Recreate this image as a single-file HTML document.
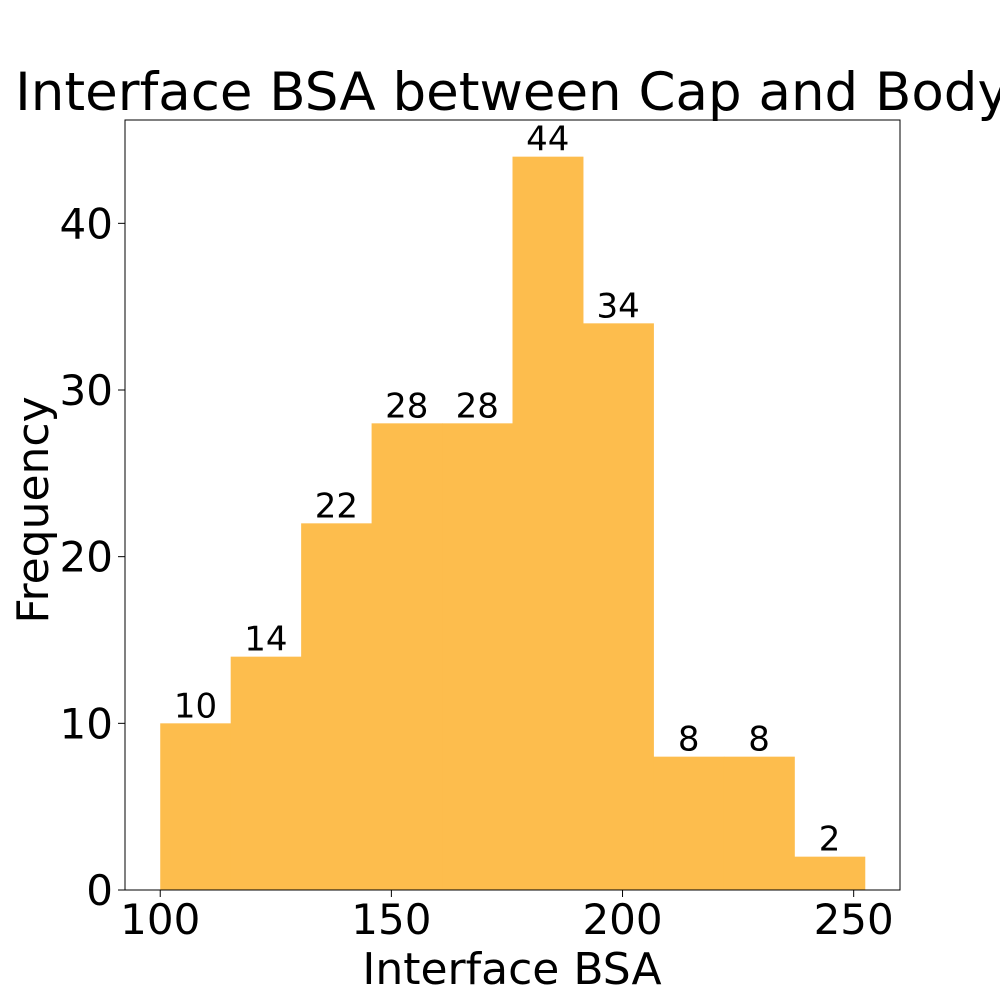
<!DOCTYPE html>
<html><head><meta charset="utf-8"><style>
html,body{margin:0;padding:0;background:#fff;width:1000px;height:1000px;overflow:hidden}
svg{font-family:"DejaVu Sans","Liberation Sans",sans-serif}
</style></head><body>
<svg id="chart" width="1000" height="1000">
<text x="512" y="110" font-size="53" text-anchor="middle">Interface BSA between Cap and Body</text>
<g id="bars"></g>
<g id="labels"></g>
<rect x="125" y="120" width="775" height="770" fill="none" stroke="#000" stroke-width="1"/>
<g id="xticks"></g>
<g id="yticks"></g>
<text x="512" y="984" font-size="44" text-anchor="middle">Interface BSA</text>
<text transform="translate(48,510) rotate(-90)" font-size="44" text-anchor="middle">Frequency</text>
</svg>
<script>
const binStart = 100;
const binWidth = 15.24;
const counts = [10,14,22,28,28,44,34,8,8,2];
const xTickValues = [100,150,200,250];
const yTickValues = [0,10,20,30,40];
const X0=125,X1=900,Y0=120,Y1=890;
const xMin=92.38,xMax=260.02,yMin=0,yMax=46.2;
const sx=v=>X0+(v-xMin)/(xMax-xMin)*(X1-X0);
const sy=v=>Y1-(v-yMin)/(yMax-yMin)*(Y1-Y0);
const NS="http://www.w3.org/2000/svg";
const mk=(t,a,txt)=>{const e=document.createElementNS(NS,t);for(const k in a)e.setAttribute(k,a[k]);if(txt!=null)e.textContent=txt;return e;};
const bars=document.getElementById('bars'),labels=document.getElementById('labels');
counts.forEach((c,i)=>{
  const a=binStart+i*binWidth,b=a+binWidth;
  const r=mk('rect',{x:sx(a),y:sy(c),width:sx(b)-sx(a)+0.5,height:sy(0)-sy(c),fill:'#fdbd4d'});
  
  
  bars.appendChild(r);
  const t=mk('text',{x:(sx(a)+sx(b))/2,y:sy(c)-6,'font-size':34,'text-anchor':'middle'},String(c));
  
  
  labels.appendChild(t);
});
const xg=document.getElementById('xticks');
xTickValues.forEach(v=>{
  const l=mk('line',{x1:sx(v),x2:sx(v),y1:Y1,y2:Y1+7,stroke:'#000'});
  
  
  xg.appendChild(l);
  const t=mk('text',{x:sx(v),y:Y1+44,'font-size':42,'text-anchor':'middle'},String(v));
  
  
  xg.appendChild(t);
});
const yg=document.getElementById('yticks');
yTickValues.forEach(v=>{
  const l=mk('line',{x1:X0-7,x2:X0,y1:sy(v),y2:sy(v),stroke:'#000'});
  
  
  yg.appendChild(l);
  const t=mk('text',{x:X0-12,y:sy(v)+15,'font-size':42,'text-anchor':'end'},String(v));
  
  
  yg.appendChild(t);
});
</script>
</body></html>
